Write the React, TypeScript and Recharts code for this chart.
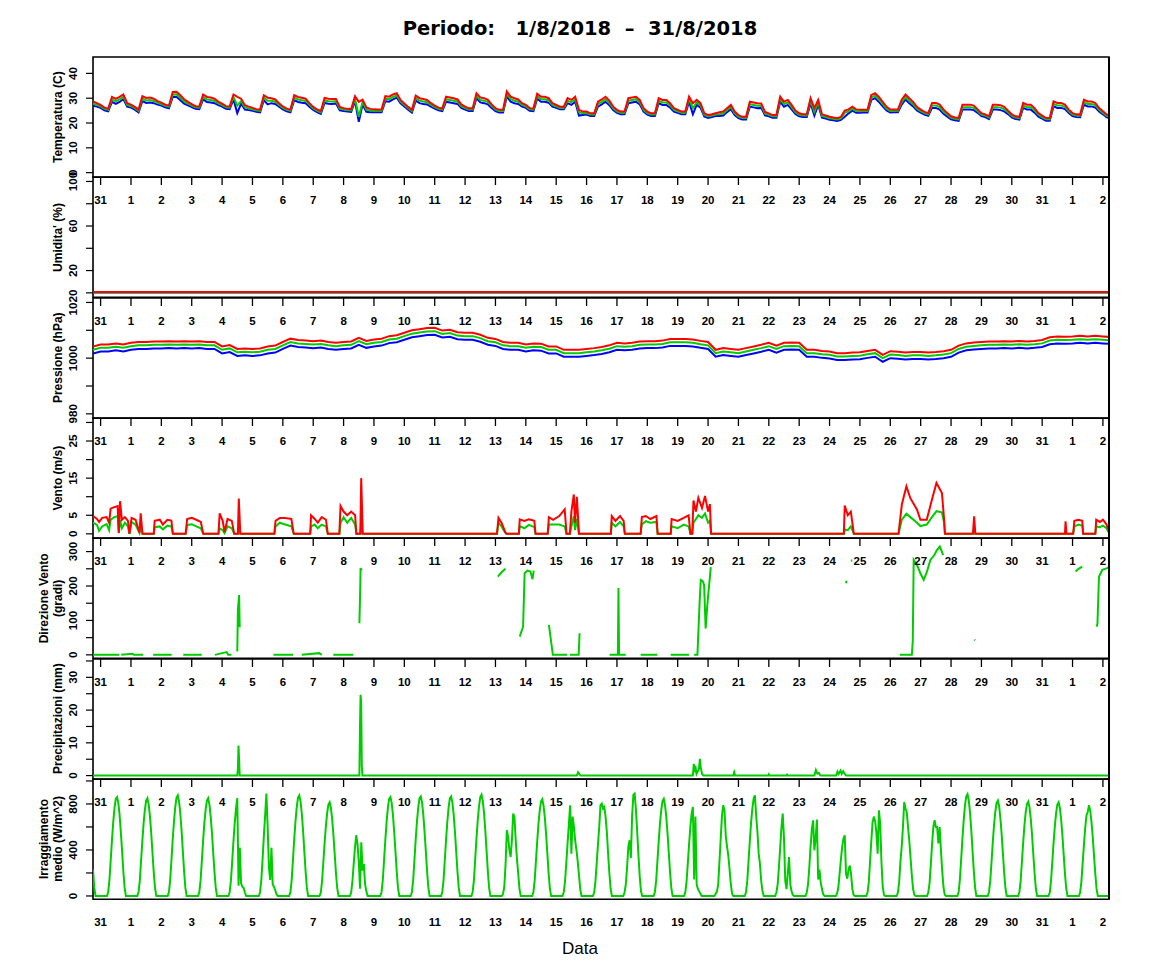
import React from "react";
import { LineChart, Line, XAxis, YAxis, ReferenceArea } from "recharts";

// x = days from 31/7 00:00
const dayLabels = [
  "31", "1", "2", "3", "4", "5", "6", "7", "8", "9", "10", "11", "12", "13", "14", "15", "16",
  "17", "18", "19", "20", "21", "22", "23", "24", "25", "26", "27", "28", "29", "30", "31", "1", "2",
];
const dayTicks = dayLabels.map((_, i) => i);

// Temperatura, every 3h from 30/7 18:00
const tempMax = [
  28.7, 28.0,
  27.3, 26.2, 25.8, 30.5, 29.7, 30.5, 31.5, 28.0,
  27.4, 26.5, 25.4, 30.8, 30.1, 30.3, 29.8, 28.8,
  28.2, 27.4, 27.0, 32.5, 32.6, 31.2, 29.6, 28.5,
  27.6, 26.8, 26.7, 31.5, 30.5, 30.3, 29.8, 28.6,
  27.8, 26.8, 26.7, 31.5, 30.5, 29.8, 27.2, 26.6,
  26.1, 25.6, 25.4, 31.2, 30.2, 30.0, 29.5, 28.0,
  26.7, 25.8, 25.4, 31.2, 30.5, 30.2, 29.8, 28.0,
  26.5, 25.5, 24.8, 30.1, 29.8, 29.7, 29.7, 26.5,
  26.0, 25.7, 25.6, 30.8, 28.5, 29.4, 26.3, 25.7,
  25.5, 25.4, 25.4, 30.8, 30.6, 31.5, 32.0, 29.3,
  27.9, 26.5, 25.3, 31.0, 30.0, 29.7, 29.3, 28.0,
  27.0, 26.2, 25.9, 30.6, 30.3, 30.0, 29.5, 27.5,
  26.6, 25.9, 25.9, 32.0, 30.3, 30.0, 29.3, 27.5,
  26.0, 25.3, 25.3, 32.7, 30.6, 30.0, 29.5, 28.0,
  27.3, 26.0, 25.9, 31.8, 30.6, 30.6, 30.0, 28.0,
  27.3, 26.6, 26.6, 30.0, 29.3, 30.6, 25.3, 24.6,
  24.6, 23.9, 23.9, 28.6, 29.5, 30.6, 29.0, 26.6,
  25.3, 24.6, 24.6, 30.0, 30.3, 30.6, 29.3, 26.0,
  24.6, 23.9, 23.9, 30.0, 29.3, 29.3, 28.0, 26.0,
  25.3, 24.6, 24.6, 30.6, 28.0, 29.3, 28.0, 24.0,
  23.2, 23.5, 23.9, 24.3, 24.6, 26.0, 27.3, 24.6,
  23.2, 22.5, 22.5, 28.6, 28.3, 28.0, 27.9, 24.5,
  23.9, 23.2, 23.2, 30.6, 28.6, 29.3, 27.3, 25.0,
  23.9, 23.5, 23.5, 30.0, 26.0, 29.3, 23.5, 23.0,
  22.5, 22.2, 21.9, 22.5, 25.0, 25.5, 26.6, 25.5,
  25.3, 25.3, 25.3, 31.3, 32.0, 30.5, 28.5, 26.5,
  25.4, 25.4, 25.4, 29.4, 31.5, 30.0, 28.5, 26.5,
  25.4, 24.5, 24.0, 28.1, 28.1, 27.4, 25.5, 24.0,
  22.7, 22.2, 22.0, 27.4, 27.4, 27.4, 27.0, 25.5,
  24.0, 23.5, 22.7, 27.4, 27.4, 27.2, 26.5, 25.0,
  23.5, 22.7, 22.5, 28.1, 27.4, 27.4, 26.0, 24.0,
  23.0, 22.0, 22.0, 28.7, 28.1, 28.1, 27.4, 25.4,
  24.0, 23.5, 23.4, 29.4, 28.7, 28.7, 28.0, 26.0,
  24.7, 23.4, 23.0,
];
const tempAvg = [
  27.8, 27.3,
  26.7, 25.7, 25.3, 29.5, 28.7, 29.5, 30.6, 27.3,
  26.8, 26.0, 24.9, 29.8, 29.1, 29.3, 28.9, 28.1,
  27.6, 26.9, 26.5, 31.5, 31.6, 30.2, 28.7, 27.8,
  27.0, 26.3, 26.2, 30.5, 29.5, 29.3, 28.9, 27.9,
  27.2, 26.3, 26.2, 30.5, 27.0, 28.8, 26.3, 25.9,
  25.5, 25.1, 24.9, 30.2, 29.0, 29.0, 28.6, 27.3,
  26.1, 25.3, 24.9, 30.2, 29.5, 29.2, 28.9, 27.3,
  25.9, 25.0, 24.3, 29.1, 28.8, 28.7, 28.8, 25.8,
  25.4, 25.2, 25.1, 29.8, 22.5, 28.4, 25.4, 25.0,
  24.9, 24.9, 24.9, 29.8, 29.6, 30.5, 31.1, 28.6,
  27.3, 26.0, 24.8, 30.0, 29.0, 28.7, 28.4, 27.3,
  26.4, 25.7, 25.4, 29.6, 29.3, 29.0, 28.6, 26.8,
  26.0, 25.4, 25.4, 31.0, 29.3, 29.0, 28.4, 26.8,
  25.4, 24.8, 24.8, 31.7, 29.6, 29.0, 28.6, 27.3,
  26.7, 25.5, 25.4, 30.8, 29.6, 29.6, 29.1, 27.3,
  26.7, 26.1, 26.1, 29.0, 28.3, 29.6, 24.4, 23.9,
  24.0, 23.4, 23.4, 27.6, 28.5, 29.6, 28.1, 25.9,
  24.7, 24.1, 24.1, 29.0, 29.3, 29.6, 28.4, 25.3,
  24.0, 23.4, 23.4, 29.0, 28.3, 28.3, 27.1, 25.3,
  24.7, 24.1, 24.1, 29.6, 26.0, 28.3, 27.1, 23.3,
  22.6, 23.0, 23.4, 23.5, 23.8, 25.2, 26.5, 23.9,
  22.6, 22.0, 22.0, 27.6, 27.3, 27.0, 27.0, 23.8,
  23.3, 22.7, 22.7, 29.6, 27.6, 28.3, 26.4, 24.3,
  23.3, 23.0, 23.0, 29.0, 24.5, 28.3, 22.8, 22.4,
  21.9, 21.7, 21.4, 21.9, 24.2, 24.7, 25.8, 24.8,
  24.7, 24.8, 24.8, 30.3, 31.0, 29.5, 27.6, 25.8,
  24.8, 24.9, 24.9, 28.4, 30.5, 29.0, 27.6, 25.8,
  24.8, 24.0, 23.5, 27.1, 27.1, 26.4, 24.6, 23.3,
  22.1, 21.7, 21.5, 26.4, 26.4, 26.4, 26.1, 24.8,
  23.4, 23.0, 22.2, 26.4, 26.4, 26.2, 25.6, 24.3,
  22.9, 22.2, 22.0, 27.1, 26.4, 26.4, 25.1, 23.3,
  22.4, 21.5, 21.5, 27.7, 27.1, 27.1, 26.5, 24.7,
  23.4, 23.0, 22.9, 28.4, 27.7, 27.7, 27.1, 25.3,
  24.1, 22.9, 22.5,
];
const tempMin = [
  27.0, 26.6,
  26.1, 25.1, 24.7, 28.5, 27.7, 28.5, 29.7, 26.6,
  26.2, 25.4, 24.3, 28.8, 28.1, 28.3, 28.0, 27.4,
  27.0, 26.3, 25.9, 30.5, 30.6, 29.2, 27.8, 27.1,
  26.4, 25.7, 25.6, 29.5, 28.5, 28.3, 28.0, 27.2,
  26.6, 25.7, 25.6, 29.5, 24.0, 27.8, 25.4, 25.2,
  24.9, 24.5, 24.3, 29.2, 27.5, 28.0, 27.7, 26.6,
  25.5, 24.7, 24.3, 29.2, 28.5, 28.2, 28.0, 26.6,
  25.3, 24.4, 23.7, 28.1, 27.8, 27.7, 27.9, 25.1,
  24.8, 24.6, 24.5, 28.8, 20.5, 27.4, 24.5, 24.3,
  24.3, 24.3, 24.3, 28.8, 28.6, 29.5, 30.2, 27.9,
  26.7, 25.4, 24.2, 29.0, 28.0, 27.7, 27.5, 26.6,
  25.8, 25.1, 24.8, 28.6, 28.3, 28.0, 27.7, 26.1,
  25.4, 24.8, 24.8, 30.0, 28.3, 28.0, 27.5, 26.1,
  24.8, 24.2, 24.2, 30.7, 28.6, 28.0, 27.7, 26.6,
  26.1, 24.9, 24.8, 29.8, 28.6, 28.6, 28.2, 26.6,
  26.1, 25.5, 25.5, 28.0, 27.3, 28.6, 23.0, 23.2,
  23.4, 22.8, 22.8, 26.6, 27.5, 28.6, 27.2, 25.2,
  24.1, 23.5, 23.5, 28.0, 28.3, 28.6, 27.5, 24.6,
  23.4, 22.8, 22.8, 28.0, 27.3, 27.3, 26.2, 24.6,
  24.1, 23.5, 23.5, 28.6, 23.5, 27.3, 26.2, 22.6,
  22.0, 22.4, 22.8, 22.8, 23.0, 24.4, 25.6, 23.2,
  22.0, 21.4, 21.4, 26.6, 26.3, 26.0, 26.1, 23.1,
  22.7, 22.1, 22.1, 28.6, 26.6, 27.3, 25.5, 23.6,
  22.7, 22.4, 22.4, 28.0, 23.0, 27.3, 22.2, 21.8,
  21.3, 21.1, 20.8, 21.3, 22.5, 23.9, 25.0, 24.1,
  24.1, 24.2, 24.2, 29.3, 30.0, 28.5, 26.7, 25.1,
  24.2, 24.3, 24.3, 27.4, 29.5, 28.0, 26.7, 25.1,
  24.2, 23.4, 22.9, 26.1, 26.1, 25.4, 23.7, 22.6,
  21.5, 21.1, 20.9, 25.4, 25.4, 25.4, 25.2, 24.1,
  22.8, 22.4, 21.6, 25.4, 25.4, 25.2, 24.7, 23.6,
  22.3, 21.6, 21.4, 26.1, 25.4, 25.4, 24.2, 22.6,
  21.8, 20.9, 20.9, 26.7, 26.1, 26.1, 25.6, 24.0,
  22.8, 22.4, 22.3, 27.4, 26.7, 26.7, 26.2, 24.6,
  23.5, 22.3, 21.9,
];

// Umidita', one value per day from 30/7 18:00
const umidMax = [0.8, 0.8, 0.8, 0.8, 0.8, 0.8, 0.8, 0.8, 0.8, 0.8, 0.8, 0.8, 0.8, 0.8, 0.8, 0.8, 0.8, 0.8, 0.8, 0.8, 0.8, 0.8, 0.8, 0.8, 0.8, 0.8, 0.8, 0.8, 0.8, 0.8, 0.8, 0.8, 0.8, 0.8, 0.8];
const umidAvg = [0.4, 0.4, 0.4, 0.4, 0.4, 0.4, 0.4, 0.4, 0.4, 0.4, 0.4, 0.4, 0.4, 0.4, 0.4, 0.4, 0.4, 0.4, 0.4, 0.4, 0.4, 0.4, 0.4, 0.4, 0.4, 0.4, 0.4, 0.4, 0.4, 0.4, 0.4, 0.4, 0.4, 0.4, 0.4];
const umidMin = [0.2, 0.2, 0.2, 0.2, 0.2, 0.2, 0.2, 0.2, 0.2, 0.2, 0.2, 0.2, 0.2, 0.2, 0.2, 0.2, 0.2, 0.2, 0.2, 0.2, 0.2, 0.2, 0.2, 0.2, 0.2, 0.2, 0.2, 0.2, 0.2, 0.2, 0.2, 0.2, 0.2, 0.2, 0.2];

// Pressione, every 6h from 30/7 18:00
const pressMax = [
  1004.2,
  1004.9, 1004.9, 1005.3, 1004.9, 1005.5, 1005.8, 1005.8, 1006.0, 1006.0, 1006.1, 1006.0, 1006.1,
  1006.0, 1006.1, 1005.8, 1005.8, 1004.2, 1004.7, 1003.3, 1003.5, 1003.3, 1003.5, 1004.2, 1004.5,
  1005.8, 1007.0, 1006.5, 1006.3, 1006.1, 1006.3, 1005.8, 1005.5, 1005.8, 1006.0, 1007.3, 1006.2,
  1006.7, 1007.0, 1007.9, 1008.2, 1009.1, 1010.0, 1010.4, 1010.8, 1010.9, 1009.9, 1010.2, 1009.3,
  1009.1, 1009.1, 1008.4, 1007.3, 1006.9, 1005.8, 1005.5, 1005.5, 1004.9, 1005.3, 1005.2, 1004.2,
  1004.2, 1003.0, 1003.0, 1003.0, 1003.3, 1003.6, 1004.0, 1004.6, 1005.5, 1005.3, 1005.5, 1006.0,
  1006.1, 1006.1, 1006.3, 1006.9, 1006.9, 1006.9, 1006.7, 1006.2, 1005.8, 1003.0, 1003.6, 1003.3,
  1003.0, 1003.6, 1004.2, 1004.8, 1005.5, 1004.5, 1005.5, 1005.6, 1005.5, 1003.0, 1003.0, 1002.6,
  1002.4, 1001.8, 1001.8, 1002.0, 1002.1, 1002.6, 1003.0, 1001.2, 1002.5, 1002.3, 1002.0, 1002.2,
  1002.2, 1002.0, 1002.2, 1002.5, 1003.0, 1004.5, 1005.3, 1005.6, 1005.8, 1006.0, 1006.0, 1006.1,
  1006.0, 1006.2, 1006.0, 1006.2, 1006.5, 1007.5, 1007.8, 1007.7, 1007.8, 1008.0, 1007.8, 1008.0,
  1007.8, 1007.6,
];
const pressAvg = [
  1003.0,
  1003.7, 1003.7, 1004.1, 1003.7, 1004.3, 1004.6, 1004.6, 1004.8, 1004.8, 1004.9, 1004.8, 1004.9,
  1004.8, 1004.9, 1004.6, 1004.6, 1003.0, 1003.5, 1002.1, 1002.3, 1002.1, 1002.3, 1003.0, 1003.3,
  1004.6, 1005.8, 1005.3, 1005.1, 1004.9, 1005.1, 1004.6, 1004.3, 1004.6, 1004.8, 1006.1, 1005.0,
  1005.5, 1005.8, 1006.7, 1007.0, 1007.9, 1008.8, 1009.2, 1009.6, 1009.7, 1008.7, 1009.0, 1008.1,
  1007.9, 1007.9, 1007.2, 1006.1, 1005.7, 1004.6, 1004.3, 1004.3, 1003.7, 1004.1, 1004.0, 1003.0,
  1003.0, 1001.8, 1001.8, 1001.8, 1002.1, 1002.4, 1002.8, 1003.4, 1004.3, 1004.1, 1004.3, 1004.8,
  1004.9, 1004.9, 1005.1, 1005.7, 1005.7, 1005.7, 1005.5, 1005.0, 1004.6, 1001.8, 1002.4, 1002.1,
  1001.8, 1002.4, 1003.0, 1003.6, 1004.3, 1003.3, 1004.3, 1004.4, 1004.3, 1001.8, 1001.8, 1001.4,
  1001.2, 1000.6, 1000.6, 1000.8, 1000.9, 1001.4, 1001.8, 1000.0, 1001.3, 1001.1, 1000.8, 1001.0,
  1001.0, 1000.8, 1001.0, 1001.3, 1001.8, 1003.3, 1004.1, 1004.4, 1004.6, 1004.8, 1004.8, 1004.9,
  1004.8, 1005.0, 1004.8, 1005.0, 1005.3, 1006.3, 1006.6, 1006.5, 1006.6, 1006.8, 1006.6, 1006.8,
  1006.6, 1006.4,
];
const pressMin = [
  1001.7,
  1002.4, 1002.4, 1002.8, 1002.4, 1003.0, 1003.3, 1003.3, 1003.5, 1003.5, 1003.6, 1003.5, 1003.6,
  1003.5, 1003.6, 1003.3, 1003.3, 1001.7, 1002.2, 1000.8, 1001.0, 1000.8, 1001.0, 1001.7, 1002.0,
  1003.3, 1004.5, 1004.0, 1003.8, 1003.6, 1003.8, 1003.3, 1003.0, 1003.3, 1003.5, 1004.8, 1003.7,
  1004.2, 1004.5, 1005.4, 1005.7, 1006.6, 1007.5, 1007.9, 1008.3, 1008.4, 1007.4, 1007.7, 1006.8,
  1006.6, 1006.6, 1005.9, 1004.8, 1004.4, 1003.3, 1003.0, 1003.0, 1002.4, 1002.8, 1002.7, 1001.7,
  1001.7, 1000.5, 1000.5, 1000.5, 1000.8, 1001.1, 1001.5, 1002.1, 1003.0, 1002.8, 1003.0, 1003.5,
  1003.6, 1003.6, 1003.8, 1004.4, 1004.4, 1004.4, 1004.2, 1003.7, 1003.3, 1000.5, 1001.1, 1000.8,
  1000.5, 1001.1, 1001.7, 1002.3, 1003.0, 1002.0, 1003.0, 1003.1, 1003.0, 1000.5, 1000.5, 1000.1,
  999.9, 999.3, 999.3, 999.5, 999.6, 1000.1, 1000.5, 998.7, 1000.0, 999.8, 999.5, 999.7,
  999.7, 999.5, 999.7, 1000.0, 1000.5, 1002.0, 1002.8, 1003.1, 1003.3, 1003.5, 1003.5, 1003.6,
  1003.5, 1003.7, 1003.5, 1003.7, 1004.0, 1005.0, 1005.3, 1005.2, 1005.3, 1005.5, 1005.3, 1005.5,
  1005.3, 1005.1,
];

// Vento
const windT = [
  -0.25, -0.12, -0.05, 0.05, 0.2, 0.28, 0.33, 0.45, 0.56, 0.6, 0.64, 0.7, 0.8, 0.9, 0.95,
  1.02, 1.15, 1.28, 1.32, 1.38, 1.75, 1.78, 1.95, 2.05, 2.2, 2.33, 2.38, 2.8, 2.85, 3.0, 3.15,
  3.3, 3.38, 3.88, 3.92, 4.02, 4.08, 4.18, 4.32, 4.4, 4.52, 4.55, 4.6, 5.72, 5.76, 5.9, 6.05,
  6.28, 6.36, 6.9, 6.93, 7.05, 7.15, 7.28, 7.42, 7.48, 7.86, 7.9, 8.0, 8.12, 8.25, 8.38, 8.42,
  8.55, 8.58, 8.63, 13.05, 13.1, 13.2, 13.32, 13.36, 13.77, 13.8, 13.95, 14.1, 14.28, 14.32,
  14.72, 14.76, 14.9, 15.1, 15.28, 15.34, 15.45, 15.5, 15.58, 15.62, 15.68, 15.75, 16.8, 16.83,
  16.95, 17.1, 17.22, 17.26, 17.78, 17.82, 17.95, 18.1, 18.3, 18.34, 18.77, 18.8, 19.0, 19.2,
  19.36, 19.42, 19.48, 19.52, 19.6, 19.68, 19.8, 19.9, 20.0, 20.06, 20.1, 24.47, 24.5, 24.6,
  24.7, 24.8, 26.27, 26.38, 26.53, 26.66, 26.88, 26.99, 27.2, 27.37, 27.52, 27.7, 27.77, 27.8,
  28.72, 28.76, 28.8, 31.75, 31.77, 31.8, 32.02, 32.06, 32.2, 32.32, 32.35, 32.75, 32.78, 32.9,
  33.0, 33.12, 33.2,
];
const windMax = [
  4.8, 4.0, 3.2, 4.3, 4.5, 3.0, 6.8, 7.2, 7.5, 0.3, 8.8, 3.8, 4.5, 3.5, 0,
  4.3, 3.8, 0.3, 5.5, 0, 0, 3.5, 3.8, 2.5, 3.8, 3.6, 0, 0, 4.0, 4.3, 3.8,
  3.2, 0, 0, 5.5, 3.5, 0.5, 4.0, 3.5, 0, 0, 9.5, 0, 0, 3.5, 4.3, 4.3,
  4.0, 0, 0, 5.0, 4.0, 3.0, 4.5, 3.8, 0, 0, 7.5, 6.0, 5.0, 6.0, 5.0, 0,
  0, 15.0, 0, 0, 4.3, 3.0, 0.5, 0, 0, 3.9, 3.5, 3.9, 3.5, 0,
  0, 4.5, 3.8, 4.8, 6.6, 0, 0, 6.0, 10.6, 3.0, 10.0, 0, 0, 4.8,
  3.5, 4.8, 3.5, 0, 0, 4.5, 4.8, 4.0, 4.8, 0, 0, 4.0, 3.5, 4.3,
  5.0, 0, 0, 9.0, 6.0, 9.7, 7.0, 10.2, 6.0, 8.0, 0, 0, 7.6, 5.0,
  6.0, 0, 0, 7.9, 12.8, 9.6, 6.5, 3.8, 3.8, 9.2, 13.7, 11.0, 4.0, 0,
  0, 4.7, 0, 0, 3.4, 0, 0, 3.5, 3.8, 3.5, 0, 0, 3.8, 3.2,
  3.8, 2.5, 0.5,
];
const windAvg = [
  3.0, 2.4, 0.8, 2.0, 2.6, 1.0, 3.8, 4.5, 4.8, 0.2, 3.8, 1.5, 3.0, 2.0, 0,
  3.2, 2.5, 0.2, 2.5, 0, 0, 1.8, 2.0, 1.2, 2.2, 2.0, 0, 0, 2.4, 2.6, 2.0,
  1.5, 0, 0, 1.5, 1.0, 0.2, 2.0, 1.5, 0, 0, 2.0, 0, 0, 2.0, 3.0, 2.6,
  2.0, 0, 0, 2.0, 2.5, 1.5, 2.5, 2.0, 0, 0, 3.0, 4.5, 3.0, 4.3, 2.5, 0,
  0, 3.0, 0, 0, 3.0, 2.0, 0.3, 0, 0, 2.1, 1.5, 2.4, 1.8, 0,
  0, 2.5, 2.5, 2.5, 2.0, 0, 0, 2.0, 4.8, 1.0, 4.0, 0, 0, 3.0,
  2.0, 3.2, 2.0, 0, 0, 2.5, 3.4, 3.0, 3.2, 0, 0, 2.0, 1.5, 2.5,
  2.0, 0, 0, 3.0, 4.0, 5.0, 4.3, 5.5, 3.0, 3.5, 0, 0, 1.2, 1.0,
  2.0, 0, 0, 3.8, 5.4, 4.5, 3.0, 2.1, 2.5, 4.5, 6.1, 5.8, 3.0, 0,
  0, 1.5, 0, 0, 0.5, 0, 0, 2.0, 2.5, 2.2, 0, 0, 2.0, 1.8,
  2.2, 1.5, 0.3,
];

// Direzione vento (null = nessun dato)
const dirT = [
  -0.25, 0.62, 0.64, 0.68, 1.05, 1.1, 1.4, 1.42, 1.73, 2.34, 2.36, 2.72, 3.33, 3.35, 3.76, 4.15,
  4.2, 4.31, 4.33, 4.5, 4.52, 4.56, 4.58, 4.6, 5.69, 6.34, 6.36, 6.62, 7.2, 7.28, 7.3, 7.66,
  8.32, 8.34, 8.52, 8.54, 8.56, 8.6, 8.62, 13.08, 13.2, 13.33, 13.35, 13.8, 13.91, 13.96, 14.05,
  14.15, 14.22, 14.26, 14.28, 14.76, 14.89, 15.36, 15.38, 15.45, 15.74, 15.77, 15.79, 16.76,
  17.03, 17.05, 17.07, 17.29, 17.31, 17.78, 18.33, 18.35, 18.77, 19.37, 19.39, 19.54, 19.65,
  19.72, 19.76, 19.82, 19.87, 19.92, 19.98, 20.09, 20.11, 24.54, 24.56, 24.58, 24.7, 24.75,
  24.77, 26.31, 26.71, 26.74, 26.77, 26.88, 27.0, 27.1, 27.2, 27.32, 27.45, 27.54, 27.63, 27.74,
  27.76, 28.77, 28.79, 28.81, 32.1, 32.2, 32.32, 32.34, 32.79, 32.82, 32.87, 32.98, 33.14, 33.2,
];
const dirV = [
  0, 0, null, 0, 3, 0, 0, null, 0, 0, null, 0, 0, null, 0, 8,
  0, 0, null, 10, 130, 174, 80, null, 0, 0, null, 0, 5, 0, null, 0,
  0, null, 92, 160, 252, 245, null, 227, 240, 250, null, 53, 82, 237, 245,
  242, 220, 245, null, 87, 0, 0, null, 0, 0, 63, null, 0,
  0, 194, 0, 0, null, 0, 0, null, 0, 0, null, 0, 0,
  150, 218, 215, 203, 77, 150, 255, null, 208, 215, null, 274, 274,
  null, 0, 0, 40, 276, 261, 235, 218, 240, 276, 290, 305, 315, 290,
  null, 44, 42, null, 242, 250, 256, null, 82, 90, 227, 247, 252, 255,
];

// Precipitazioni
const precT = [
  -0.25, 4.5, 4.52, 4.54, 4.56, 4.58, 8.52, 8.54, 8.56, 8.58, 8.6, 8.62, 15.68, 15.72, 15.76,
  15.8, 19.5, 19.53, 19.56, 19.58, 19.62, 19.7, 19.73, 19.76, 19.8, 19.85, 20.83, 20.86, 20.89,
  21.98, 22.0, 22.02, 22.57, 22.6, 22.62, 23.5, 23.55, 23.6, 23.65, 23.7, 24.22, 24.26, 24.3,
  24.36, 24.4, 24.45, 24.5, 24.54, 33.2,
];
const precV = [
  0, 0, 2, 9.2, 5, 0, 0, 15, 24.7, 22, 3, 0, 0, 1.0, 0.5,
  0, 0, 3.6, 1.0, 3.0, 0.5, 2.0, 5.1, 2.5, 0.5, 0, 0, 1.0, 0,
  0, 0.4, 0, 0, 0.3, 0, 0, 1.7, 0.6, 0.8, 0, 0, 1.2, 0.5,
  1.5, 0.5, 1.3, 0.5, 0, 0,
];

// Irraggiamento medio: ore 5..20 di ogni giorno dal 31/7 al 1/9
const irrHours = [5, 6, 7, 8, 9, 10, 11, 12, 13, 14, 15, 16, 17, 18, 19, 20];
const irrDays = [
  [0, 35, 140, 315, 490, 645, 765, 845, 860, 810, 705, 555, 385, 210, 70, 0],
  [0, 35, 135, 310, 480, 635, 750, 830, 850, 795, 695, 545, 375, 205, 70, 0],
  [0, 35, 140, 315, 495, 650, 775, 855, 875, 820, 715, 565, 385, 210, 70, 0],
  [0, 35, 135, 305, 480, 635, 750, 830, 850, 795, 690, 545, 375, 205, 70, 0],
  [0, 35, 135, 305, 480, 635, 760, 850, 90, 420, 110, 80, 70, 30, 0, 0],
  [0, 35, 140, 320, 520, 700, 890, 600, 250, 140, 420, 100, 80, 50, 15, 0],
  [0, 35, 140, 315, 495, 650, 775, 855, 875, 820, 715, 565, 385, 210, 70, 0],
  [0, 30, 130, 295, 460, 605, 720, 795, 815, 765, 665, 525, 360, 195, 65, 0],
  [0, 30, 130, 280, 420, 528, 450, 300, 64, 467, 220, 277, 100, 40, 0, 0],
  [0, 35, 140, 315, 490, 645, 765, 845, 860, 810, 705, 555, 385, 210, 70, 0],
  [0, 35, 140, 315, 495, 650, 770, 850, 865, 812, 705, 555, 385, 210, 70, 0],
  [0, 35, 140, 315, 495, 650, 770, 850, 865, 812, 705, 555, 385, 210, 70, 0],
  [0, 35, 140, 320, 500, 655, 780, 860, 880, 825, 720, 565, 390, 212, 70, 0],
  [0, 20, 80, 278, 571, 513, 400, 339, 484, 716, 687, 484, 320, 193, 60, 0],
  [0, 35, 135, 305, 475, 630, 745, 820, 840, 785, 685, 540, 370, 200, 65, 0],
  [0, 35, 130, 290, 460, 620, 788, 368, 690, 600, 480, 400, 300, 180, 60, 0],
  [0, 30, 125, 285, 450, 600, 790, 803, 760, 774, 690, 560, 370, 200, 65, 0],
  [0, 30, 100, 250, 430, 484, 330, 700, 880, 890, 750, 560, 350, 170, 40, 0],
  [0, 35, 135, 305, 475, 630, 745, 825, 845, 790, 685, 540, 370, 200, 65, 0],
  [0, 30, 125, 285, 450, 600, 716, 774, 143, 690, 100, 60, 40, 20, 0, 0],
  [0, 20, 40, 100, 300, 500, 700, 790, 740, 520, 430, 350, 230, 100, 20, 0],
  [0, 35, 135, 305, 480, 640, 760, 845, 875, 700, 560, 368, 278, 130, 40, 0],
  [0, 30, 100, 250, 420, 600, 716, 500, 130, 60, 200, 339, 100, 40, 10, 0],
  [0, 30, 100, 250, 430, 580, 658, 397, 500, 664, 143, 230, 120, 60, 15, 0],
  [0, 25, 80, 200, 320, 430, 500, 527, 193, 150, 230, 264, 193, 60, 10, 0],
  [0, 30, 120, 300, 480, 640, 690, 650, 550, 368, 745, 630, 300, 80, 10, 0],
  [0, 30, 120, 300, 427, 600, 817, 760, 730, 600, 480, 330, 180, 60, 10, 0],
  [0, 30, 110, 270, 450, 600, 658, 600, 600, 456, 600, 400, 220, 80, 10, 0],
  [0, 35, 145, 320, 500, 660, 785, 865, 885, 830, 725, 570, 390, 215, 70, 0],
  [0, 35, 135, 300, 470, 620, 735, 810, 830, 780, 675, 535, 365, 200, 65, 0],
  [0, 35, 130, 300, 465, 615, 730, 800, 820, 770, 670, 530, 360, 200, 65, 0],
  [0, 30, 130, 295, 460, 605, 720, 795, 815, 765, 665, 525, 360, 195, 65, 0],
  [0, 30, 125, 285, 445, 590, 700, 730, 790, 740, 640, 505, 345, 190, 60, 0],
];
const irrStartT = [-0.25, -0.208, -0.167];
const irrStartV = [230, 70, 0];
const irrEndT = [33.2];
const irrEndV = [0];

type Pt = { t: number; v: number | null };
const every = (startDay: number, stepHours: number, values: (number | null)[]): Pt[] =>
  values.map((v, i) => ({ t: startDay + (i * stepHours) / 24, v }));
const pairs = (times: number[], values: (number | null)[]): Pt[] =>
  times.map((t, i) => ({ t, v: values[i] }));
const hourly = (rows: number[][], hours: number[]): Pt[] =>
  rows.flatMap((row, d) => row.map((v, j) => ({ t: d + hours[j] / 24, v })));

const RED = "#ff0000";
const GREEN = "#00cd00";
const BLUE = "#0000ff";

const FONT = "'Liberation Sans', Arial, Helvetica, sans-serif";

const PAGE_W = 1152;
const PLOT_LEFT = 93;
const PLOT_RIGHT = 1109;
const FIRST_TOP = 57;
const PANEL_H = 120.3;
const PAD = 14;
const X_DOMAIN: [number, number] = [-0.25, 33.2];

type Series = { data: Pt[]; color: string };
type PanelDef = {
  title: string[];
  domain: [number, number];
  ticks: number[];
  labelled: number[];
  series: Series[];
};

const panels: PanelDef[] = [
  {
    title: ["Temperatura (C)"],
    domain: [-1.87, 46.6],
    ticks: [0, 10, 20, 30, 40],
    labelled: [0, 10, 20, 30, 40],
    series: [
      { data: every(-0.25, 3, tempMin), color: BLUE },
      { data: every(-0.25, 3, tempAvg), color: GREEN },
      { data: every(-0.25, 3, tempMax), color: RED },
    ],
  },
  {
    title: ["Umidita' (%)"],
    domain: [-4, 104],
    ticks: [0, 20, 40, 60, 80, 100],
    labelled: [20, 60, 100],
    series: [
      { data: every(-0.25, 24, umidMin), color: BLUE },
      { data: every(-0.25, 24, umidAvg), color: GREEN },
      { data: every(-0.25, 24, umidMax), color: RED },
    ],
  },
  {
    title: ["Pressione (hPa)"],
    domain: [978.4, 1021.6],
    ticks: [980, 990, 1000, 1010, 1020],
    labelled: [980, 1000, 1020],
    series: [
      { data: every(-0.25, 6, pressMin), color: BLUE },
      { data: every(-0.25, 6, pressAvg), color: GREEN },
      { data: every(-0.25, 6, pressMax), color: RED },
    ],
  },
  {
    title: ["Vento (m/s)"],
    domain: [-1.2, 31.2],
    ticks: [0, 5, 10, 15, 20, 25, 30],
    labelled: [0, 5, 15, 25],
    series: [
      { data: pairs(windT, windAvg), color: GREEN },
      { data: pairs(windT, windMax), color: RED },
    ],
  },
  {
    title: ["Direzione Vento", "(gradi)"],
    domain: [-10, 339.5],
    ticks: [0, 50, 100, 150, 200, 250, 300],
    labelled: [0, 100, 200, 300],
    series: [{ data: pairs(dirT, dirV), color: GREEN }],
  },
  {
    title: ["Precipitazioni (mm)"],
    domain: [-1.13, 35.6],
    ticks: [0, 5, 10, 15, 20, 25, 30, 35],
    labelled: [0, 10, 20, 30],
    series: [{ data: pairs(precT, precV), color: GREEN }],
  },
  {
    title: ["Irraggiamento", "medio (W/m^2)"],
    domain: [-29, 1017],
    ticks: [0, 200, 400, 600, 800, 1000],
    labelled: [0, 400, 800],
    series: [
      {
        data: [
          ...pairs(irrStartT, irrStartV),
          ...hourly(irrDays, irrHours),
          ...pairs(irrEndT, irrEndV),
        ],
        color: GREEN,
      },
    ],
  },
];

function DayTick(props: any) {
  const { x, y, payload, shift } = props;
  return (
    <text x={x} y={y + shift} textAnchor="middle" fontFamily={FONT} fontWeight="bold" fontSize={11.5} fill="#000">
      {dayLabels[payload.value]}
    </text>
  );
}

function ValueTick(props: any) {
  const { x, y, payload, labelled } = props;
  if (!labelled.includes(payload.value)) return <g />;
  return (
    <text
      x={x}
      y={y}
      transform={`rotate(-90 ${x} ${y})`}
      textAnchor="middle"
      fontFamily={FONT}
      fontWeight="bold"
      fontSize={11.7}
      fill="#000"
    >
      {payload.value}
    </text>
  );
}

function Panel({ def, index }: { def: PanelDef; index: number }) {
  const last = index === panels.length - 1;
  const labelBand = last ? 40 : 0;
  const axisCommon = {
    type: "number" as const,
    dataKey: "t",
    domain: X_DOMAIN,
    allowDataOverflow: true,
    ticks: dayTicks,
    interval: 0 as const,
    stroke: "#000",
  };
  return (
    <div style={{ position: "absolute", left: 0, top: FIRST_TOP + index * PANEL_H - PAD }}>
      <LineChart
        width={PAGE_W}
        height={PANEL_H + 2 * PAD + labelBand}
        margin={{ top: PAD, bottom: PAD, left: PLOT_LEFT - 40, right: PAGE_W - PLOT_RIGHT - 20 }}
      >
        <XAxis
          {...axisCommon}
          xAxisId="top"
          orientation="top"
          mirror
          height={1}
          tickSize={8}
          tickMargin={0}
          axisLine={false}
          tickLine={{ stroke: "#000", strokeWidth: 1.3 }}
          tick={index === 0 ? false : (p: any) => <DayTick {...p} shift={18.8} />}
        />
        <XAxis
          {...axisCommon}
          xAxisId="bottom"
          orientation="bottom"
          mirror
          height={1}
          tickSize={8}
          axisLine={false}
          tickLine={{ stroke: "#000", strokeWidth: 1.3 }}
          tick={false}
        />
        {last && (
          <XAxis
            {...axisCommon}
            xAxisId="labels"
            orientation="bottom"
            height={labelBand}
            tickSize={0}
            tickMargin={0}
            axisLine={false}
            tickLine={false}
            tick={(p: any) => <DayTick {...p} shift={26.8} />}
          />
        )}
        <YAxis
          yAxisId="left"
          width={40}
          type="number"
          domain={def.domain}
          allowDataOverflow
          ticks={def.ticks}
          interval={0}
          tickSize={7}
          tickMargin={9}
          stroke="#000"
          axisLine={false}
          tickLine={{ stroke: "#000", strokeWidth: 1.2 }}
          tick={(p: any) => <ValueTick {...p} labelled={def.labelled} />}
        />
        <YAxis
          yAxisId="right"
          orientation="right"
          width={20}
          type="number"
          domain={def.domain}
          allowDataOverflow
          ticks={def.ticks}
          interval={0}
          tickSize={7}
          stroke="#000"
          axisLine={{ stroke: "#000", strokeWidth: 2 }}
          tickLine={{ stroke: "#000", strokeWidth: 1.2 }}
          tick={false}
        />
        <ReferenceArea
          xAxisId="bottom"
          yAxisId="left"
          x1={X_DOMAIN[0]}
          x2={X_DOMAIN[1]}
          y1={def.domain[0]}
          y2={def.domain[1]}
          fill="none"
          fillOpacity={0}
          stroke="#000"
          strokeWidth={1.6}
          strokeOpacity={1}
        />
        {def.series.map((s, k) => (
          <Line
            key={k}
            xAxisId="bottom"
            yAxisId="left"
            data={s.data}
            dataKey="v"
            type="linear"
            stroke={s.color}
            strokeWidth={2}
            dot={false}
            activeDot={false}
            connectNulls={false}
            isAnimationActive={false}
          />
        ))}
      </LineChart>
    </div>
  );
}

export default function App() {
  return (
    <div style={{ position: "absolute", left: 0, top: 0, width: PAGE_W, height: 972, background: "#fff" }}>
      {panels.map((def, i) => (
        <Panel key={i} def={def} index={i} />
      ))}
      <svg
        width={PAGE_W}
        height={972}
        style={{ position: "absolute", left: 0, top: 0, pointerEvents: "none" }}
      >
        <text
          x={580}
          y={35}
          textAnchor="middle"
          fontFamily="'DejaVu Sans', sans-serif"
          fontWeight="bold"
          fontSize={19.5}
          style={{ whiteSpace: "pre" }}
        >
          {"Periodo:   1/8/2018  –  31/8/2018"}
        </text>
        <text x={580} y={954} textAnchor="middle" fontFamily={FONT} fontSize={17}>
          Data
        </text>
        {panels.map((def, i) => {
          const cy = FIRST_TOP + i * PANEL_H + PANEL_H / 2;
          const xs = def.title.length === 1 ? [62] : [48.5, 62];
          return def.title.map((line, j) => (
            <text
              key={`${i}-${j}`}
              x={xs[j]}
              y={cy}
              transform={`rotate(-90 ${xs[j]} ${cy})`}
              textAnchor="middle"
              fontFamily={FONT}
              fontWeight="bold"
              fontSize={12}
            >
              {line}
            </text>
          ));
        })}
      </svg>
    </div>
  );
}
